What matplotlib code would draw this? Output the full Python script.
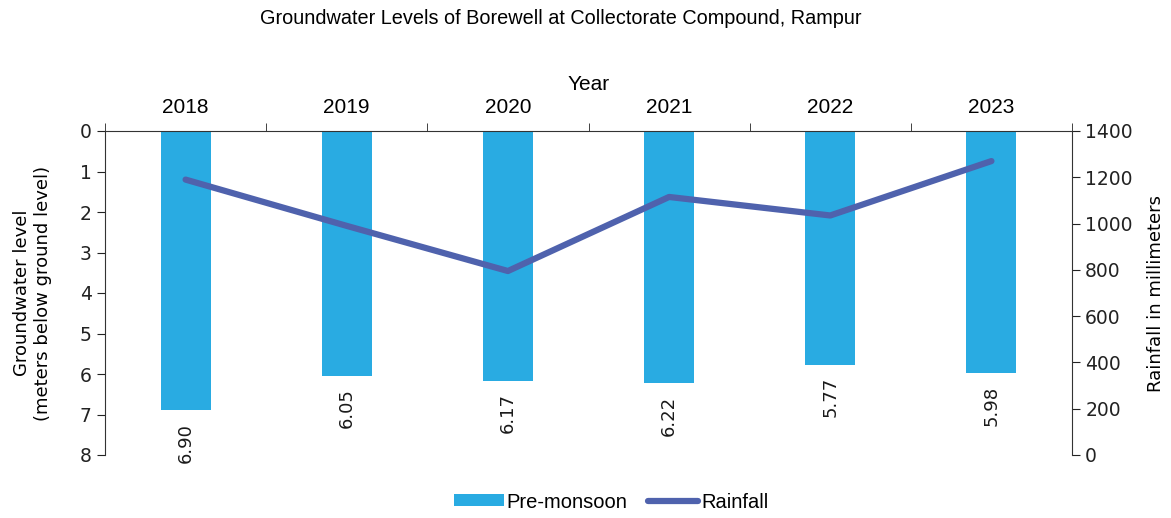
import matplotlib.pyplot as plt
from matplotlib.patches import Patch
from matplotlib.lines import Line2D
from matplotlib.ticker import FixedLocator

years = ["2018", "2019", "2020", "2021", "2022", "2023"]
pre_monsoon = [6.90, 6.05, 6.17, 6.22, 5.77, 5.98]
rainfall = [1190, 990, 795, 1115, 1035, 1270]

BAR_COLOR = "#29ABE2"
LINE_COLOR = "#4F62AD"
NARROW = ["Liberation Sans", "DejaVu Sans"]

fig = plt.figure(figsize=(11.71, 5.18), dpi=100)
ax = fig.add_axes([105 / 1171, 1 - 455 / 518, 967 / 1171, 324 / 518])
ax2 = ax.twinx()

x = list(range(len(years)))
ax.bar(x, pre_monsoon, width=0.31, color=BAR_COLOR, zorder=2)
for xi, v in zip(x, pre_monsoon):
    ax.annotate(f"{v:.2f}", (xi, v), xytext=(0, -9), textcoords="offset points",
                rotation=90, ha="center", va="top", fontsize=13, color="#1a1a1a")

ax.set_ylim(8, 0)
ax.set_xlim(-0.5, len(years) - 0.5)
ax.set_yticks(range(0, 9))
ax.tick_params(axis="y", labelsize=13.5, length=6, direction="out", colors="#222222")

ax.xaxis.tick_top()
ax.xaxis.set_label_position("top")
ax.set_xticks(x)
ax.set_xticklabels(years, fontsize=15, family=NARROW)
ax.tick_params(axis="x", which="major", length=0, pad=10)
ax.xaxis.set_minor_locator(FixedLocator([i + 0.5 for i in range(-1, len(years))]))
ax.tick_params(axis="x", which="minor", length=6, direction="out", color="#222222")
ax.set_xlabel("Year", fontsize=15, family=NARROW, labelpad=6)

ax.set_ylabel("Groundwater level\n(meters below ground level)", fontsize=13, labelpad=20)

for s in ["bottom", "right"]:
    ax.spines[s].set_visible(False)
for s in ["top", "left"]:
    ax.spines[s].set_color("#333333")

ax2.plot(x, rainfall, color=LINE_COLOR, linewidth=4.5, solid_capstyle="round", zorder=3)
ax2.set_ylim(0, 1400)
ax2.set_yticks(range(0, 1401, 200))
ax2.tick_params(axis="y", labelsize=13.5, length=6, direction="out", colors="#222222")
ax2.set_ylabel("Rainfall in millimeters", fontsize=13, labelpad=10)
for s in ["bottom", "left", "top"]:
    ax2.spines[s].set_visible(False)
ax2.spines["right"].set_color("#333333")

fig.text(561 / 1171, 1 - 18 / 518, "Groundwater Levels of Borewell at Collectorate Compound, Rampur",
         ha="center", va="center", fontsize=14.3, family=NARROW)

handles = [Patch(facecolor=BAR_COLOR, edgecolor="none"),
           Line2D([0], [0], color=LINE_COLOR, linewidth=4.5, solid_capstyle="round")]
fig.legend(handles, ["Pre-monsoon", "Rainfall"], loc="center", bbox_to_anchor=(611 / 1171, 1 - 502 / 518),
           ncol=2, frameon=False, prop={"family": NARROW, "size": 14.5},
           handlelength=2.5, handleheight=0.55, handletextpad=0.15, columnspacing=1.0)

fig.savefig("out.png", dpi=100)
